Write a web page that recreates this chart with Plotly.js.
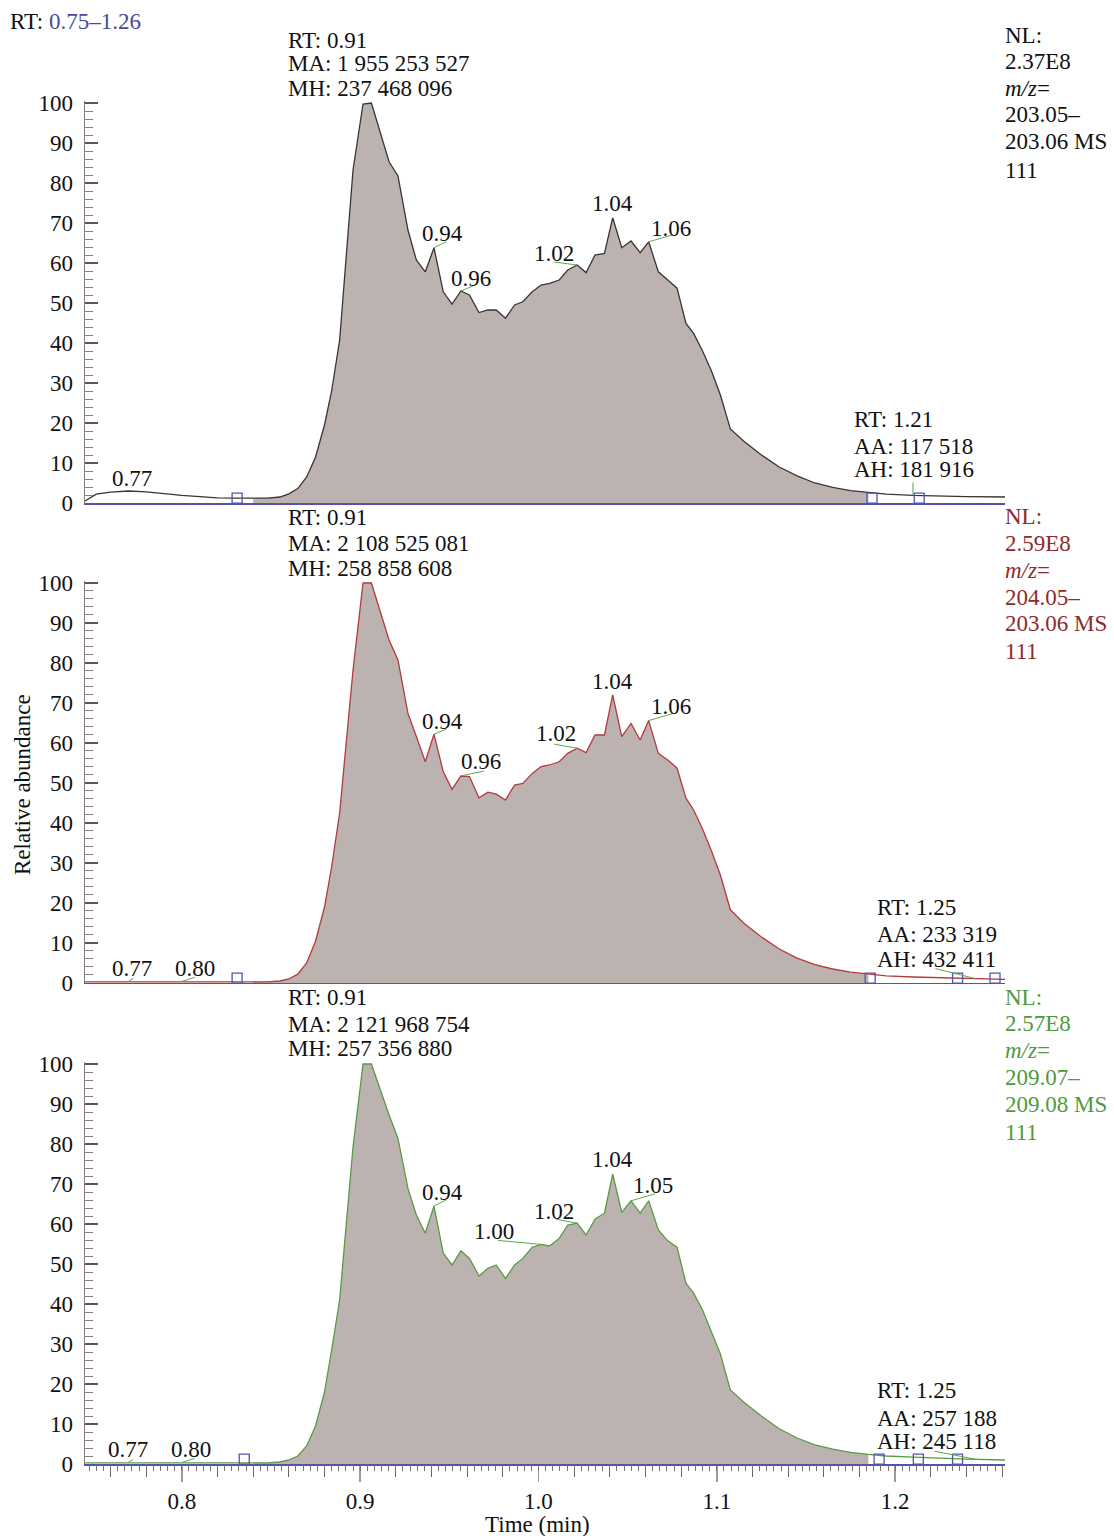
<!DOCTYPE html>
<html><head><meta charset="utf-8">
<script src="https://cdn.plot.ly/plotly-3.0.1.min.js"></script>
<style>html,body{margin:0;padding:0;background:#fff}#chart{width:1114px;height:1536px}</style>
</head><body><div id="chart"></div>
<script>
// ---------------- DATA ----------------
const times = [0.7457,0.752,0.760,0.770,0.780,0.790,0.800,0.810,0.820,0.830,0.840,0.848,0.855,0.860,0.865,0.870,0.875,0.880,0.884,
 0.8885,0.8960,0.9016,0.9063,0.9162,0.9212,0.9268,0.9315,0.9365,0.9414,0.9466,0.9515,0.9565,0.9613,0.9666,0.9716,0.9763,0.9815,0.9866,0.9912,
 0.9965,1.0015,1.0062,1.0116,1.0164,1.0217,1.0267,1.0317,1.0370,1.0416,1.0467,1.0519,1.0570,1.0618,1.0672,1.0725,1.0777,1.0827,1.0870,
 1.092,1.097,1.102,1.1076,1.115,1.125,1.135,1.145,1.155,1.165,1.175,1.185,1.195,1.210,1.225,1.240,1.2616];

const abundance203 = [0.5,2.2,2.7,3.0,2.8,2.3,1.9,1.6,1.3,1.2,1.1,1.2,1.5,2.3,3.6,6.5,11.5,19.5,28,
 40.75,83.25,99.75,100,85.3,81.75,68.25,60.75,57.8,63.8,52.8,49.7,53,52,47.6,48.25,48.25,46.2,49.5,50.3,
 52.8,54.5,54.9,55.75,58.25,59.5,57.6,62,62.4,71.3,63.8,65.5,62.6,65.3,57.8,55.75,53.7,44.9,42.4,
 38,33,27,18.5,15.5,12,9,6.8,5,3.9,3.1,2.6,2.2,1.9,1.7,1.6,1.5];

const abundance204 = [0.3,0.3,0.3,0.4,0.3,0.3,0.4,0.3,0.3,0.3,0.3,0.3,0.5,1.0,2.2,5.0,10.5,19,29,
 42.5,78.25,100,100,85.75,80.75,67.4,61.6,55.3,62.2,52.8,48.4,51.75,51.6,46.3,47.7,47.2,45.75,49.5,49.9,
 52.4,54.1,54.5,55.3,57.4,58.7,57.6,62,62,72,61.6,64.9,60.75,65.6,57.4,55.75,53.7,46.2,43.25,
 38.5,33,27,18.3,15,11.5,8.5,6.2,4.6,3.5,2.7,2.2,1.8,1.5,1.3,1.1,0.9];

const abundance209 = [0.3,0.3,0.3,0.4,0.3,0.3,0.4,0.3,0.3,0.3,0.3,0.3,0.5,1.0,2.0,4.5,9.5,18,28.5,
 41,79.3,100,100,87.25,81.4,68.9,62.25,57.7,64.5,52.7,49.75,53.3,51.4,47,48.9,49.75,46.4,49.75,51.4,
 54.2,54.9,54.5,56.4,59.75,60.2,57.25,61.2,62.7,72.5,62.9,65.8,62.7,65.8,58.5,55.8,54.2,45.2,42.7,
 38.5,33,27.5,18.5,15.5,12,8.8,6.5,4.8,3.7,2.9,2.4,2.0,1.7,1.4,1.2,1.0];

const peakRange203 = [0.832, 1.187];
const peakRange204 = [0.832, 1.187];
const peakRange209 = [0.836, 1.191];

const squares203 = [0.831, 1.187, 1.2135];
const squares204 = [0.831, 1.186, 1.235, 1.256];
const squares209 = [0.835, 1.191, 1.213, 1.235];

const labelTimes203 = [0.770, 0.9414, 0.9565, 1.0217, 1.0416, 1.0618];
const labelTexts203 = ['0.77','0.94','0.96','1.02','1.04','1.06'];
const labelTimes204 = [0.770, 0.800, 0.9414, 0.9565, 1.0217, 1.0416, 1.0618];
const labelTexts204 = ['0.77','0.80','0.94','0.96','1.02','1.04','1.06'];
const labelTimes209 = [0.770, 0.800, 0.9414, 1.0015, 1.0217, 1.0416, 1.0519];
const labelTexts209 = ['0.77','0.80','0.94','1.00','1.02','1.04','1.05'];

const header203 = ['RT: 0.91','MA: 1 955 253 527','MH: 237 468 096'];
const header204 = ['RT: 0.91','MA: 2 108 525 081','MH: 258 858 608'];
const header209 = ['RT: 0.91','MA: 2 121 968 754','MH: 257 356 880'];
const minor203 = ['RT: 1.21','AA: 117 518','AH: 181 916'];
const minor204 = ['RT: 1.25','AA: 233 319','AH: 432 411'];
const minor209 = ['RT: 1.25','AA: 257 188','AH: 245 118'];
const minorTime203 = 1.210, minorTime204 = 1.245, minorTime209 = 1.245;
const side203 = ['NL:','2.37E8','<i>m/z</i>=','203.05–','203.06 MS','111'];
const side204 = ['NL:','2.59E8','<i>m/z</i>=','204.05–','203.06 MS','111'];
const side209 = ['NL:','2.57E8','<i>m/z</i>=','209.07–','209.08 MS','111'];

// ---------------- STYLE / LAYOUT ----------------
const FONT = 'Liberation Serif, Times New Roman, serif';
const FS = 23;
const W=1114, H=1536, ML=85, MR=109, MT=101, MB=72;
const PW=W-ML-MR, PH=H-MT-MB;
const px = x => (x-ML)/PW;
const py = y => (H-MB-y)/PH;
const XR = [0.7457, 1.2616];
const FILL = '#bcb3b0';
const BLUE = '#5353ad';
const GREEN = '#5caa4a';

// label offsets [textDx, textDy, lineDx, lineDy] in pixels (dy up)
const off203 = [[4,13,0,0],[9,14,12,6],[10,13,12,5],[-23,12,-23,3],[0,14,0,0],[22,13,24,7]];
const off204 = [[4,13,5,3],[13,13,13,4],[9,13,12,5],[20,14,23,5],[-21,15,-23,4],[0,13,0,0],[22,14,24,7]];
const off209 = [[0,13,5,3],[9,13,13,4],[9,14,12,6],[-47,13,-43,4],[-23,12,-21,4],[0,15,0,0],[22,15,24,7]];

const panels = [
 {vals:abundance203, range:peakRange203, sq:squares203, lt:labelTimes203, lx:labelTexts203, off:off203,
  header:header203, headerY:[40,64,88], minor:minor203, minorX:852, minorY:[419,446,470], minorT:minorTime203, minorLine:[0,13],
  side:side203, sideY:[35,61,88,115,141,170], lineColor:'#3a3434', sideColor:'#111111', xa:'x', ya:'y'},
 {vals:abundance204, range:peakRange204, sq:squares204, lt:labelTimes204, lx:labelTexts204, off:off204,
  header:header204, headerY:[517,543,568], minor:minor204, minorX:875, minorY:[908,935,959], minorT:minorTime204, minorLine:[-40,10],
  side:side204, sideY:[516,543,570,597,623,651], lineColor:'#b23b3b', sideColor:'#8e2a2a', xa:'x2', ya:'y2'},
 {vals:abundance209, range:peakRange209, sq:squares209, lt:labelTimes209, lx:labelTexts209, off:off209,
  header:header209, headerY:[997,1024,1048], minor:minor209, minorX:875, minorY:[1390,1418,1441], minorT:minorTime209, minorLine:[-41,8],
  side:side209, sideY:[997,1023,1050,1077,1104,1132], lineColor:'#5a9a45', sideColor:'#4f9a3b', xa:'x3', ya:'y3'}
];

function nearestVal(vals, t){
  let bi=0, bd=1e9;
  times.forEach((tt,i)=>{const d=Math.abs(tt-t); if(d<bd){bd=d;bi=i;}});
  return vals[bi];
}

const traces=[], annotations=[], shapes=[];
panels.forEach(p=>{
  const fx=[], fy=[];
  times.forEach((t,i)=>{ if(t>=p.range[0] && t<=p.range[1]){fx.push(t); fy.push(p.vals[i]);} });
  traces.push({x:fx, y:fy, xaxis:p.xa, yaxis:p.ya, type:'scatter', mode:'lines', fill:'tozeroy',
    fillcolor:FILL, line:{width:0, color:FILL}, hoverinfo:'skip'});
  traces.push({x:times, y:p.vals, xaxis:p.xa, yaxis:p.ya, type:'scatter', mode:'lines',
    line:{width:1.3, color:p.lineColor}, hoverinfo:'skip'});
  traces.push({x:p.sq, y:p.sq.map(()=>1.2), xaxis:p.xa, yaxis:p.ya, type:'scatter', mode:'markers', cliponaxis:false,
    marker:{symbol:'square-open', size:10, color:BLUE, line:{width:1.3, color:BLUE}}, hoverinfo:'skip'});
  // peak labels
  p.lt.forEach((t,i)=>{
    const v = nearestVal(p.vals, t);
    const o = p.off[i];
    annotations.push({xref:p.xa, yref:p.ya, x:t, y:v, text:p.lx[i], showarrow:false,
      xanchor:'center', yanchor:'middle', xshift:o[0], yshift:o[1], font:{family:FONT,size:FS,color:'#111'}});
    if(o[2]!==0 || o[3]!==0){
      shapes.push({type:'line', xref:p.xa, yref:p.ya, xsizemode:'pixel', ysizemode:'pixel', xanchor:t, yanchor:v,
        x0:0, y0:0, x1:o[2], y1:o[3], line:{color:GREEN, width:1}});
    }
  });
  // minor peak leader
  const mv = nearestVal(p.vals, p.minorT);
  shapes.push({type:'line', xref:p.xa, yref:p.ya, xsizemode:'pixel', ysizemode:'pixel', xanchor:p.minorT, yanchor:mv,
    x0:0, y0:0, x1:p.minorLine[0], y1:p.minorLine[1], line:{color:GREEN, width:1}});
  p.header.forEach((s,i)=>annotations.push({xref:'paper',yref:'paper',x:px(286),y:py(p.headerY[i]),text:s,showarrow:false,
    xanchor:'left',yanchor:'middle',font:{family:FONT,size:FS,color:'#111'}}));
  p.minor.forEach((s,i)=>annotations.push({xref:'paper',yref:'paper',x:px(p.minorX),y:py(p.minorY[i]),text:s,showarrow:false,
    xanchor:'left',yanchor:'middle',font:{family:FONT,size:FS,color:'#111'}}));
  p.side.forEach((s,i)=>annotations.push({xref:'paper',yref:'paper',x:px(1003),y:py(p.sideY[i]),text:s,showarrow:false,
    xanchor:'left',yanchor:'middle',font:{family:FONT,size:FS,color:p.sideColor}}));
});
traces.push({x:[XR[0]], y:[0], xaxis:'x4', yaxis:'y3', mode:'markers', marker:{opacity:0}, hoverinfo:'skip'});

annotations.push({xref:'paper',yref:'paper',x:px(8),y:py(22),xanchor:'left',yanchor:'middle',showarrow:false,
  text:'RT: <span style="color:#4a4a9c">0.75–1.26</span>', font:{family:FONT,size:FS,color:'#111'}});
annotations.push({xref:'paper',yref:'paper',x:px(22),y:py(785),xanchor:'center',yanchor:'middle',showarrow:false,textangle:-90,
  text:'Relative abundance', font:{family:FONT,size:FS,color:'#111'}});
annotations.push({xref:'paper',yref:'paper',x:px(537),y:py(1524),xanchor:'center',yanchor:'middle',showarrow:false,
  text:'Time (min)', font:{family:FONT,size:FS,color:'#111'}});

function yax(domain){
  return {domain, range:[0,100.5], showgrid:false, zeroline:false, showline:true, linecolor:'#8a7e7b', linewidth:1.5,
    ticks:'inside', ticklen:13, tickwidth:1.5, tickcolor:'#5e5553', tickmode:'linear', tick0:0, dtick:10,
    minor:{ticks:'inside', dtick:2, ticklen:8, tickwidth:1, tickcolor:'#8a7e7b'},
    tickfont:{family:FONT,size:FS,color:'#111'}, ticklabelstandoff:6, fixedrange:true};
}
function xaxTop(anchor){
  return {anchor, range:XR, showline:true, linecolor:BLUE, linewidth:1.5, ticks:'', showticklabels:false,
    showgrid:false, zeroline:false, fixedrange:true};
}
const layout = {
  width:W, height:H, margin:{l:ML, r:MR, t:MT, b:MB}, showlegend:false,
  paper_bgcolor:'#ffffff', plot_bgcolor:'#ffffff',
  xaxis:xaxTop('y'), xaxis2:xaxTop('y2'),
  xaxis3:{anchor:'y3', range:XR, showline:true, linecolor:BLUE, linewidth:1.5, showgrid:false, zeroline:false,
    ticks:'outside', tickmode:'linear', tick0:0, dtick:0.1, ticklen:16, tickwidth:1.5, tickcolor:'#a09a98',
    minor:{ticks:'outside', dtick:0.02, ticklen:11, tickwidth:1.2, tickcolor:'#6a605e'},
    tickformat:'.1f', tickfont:{family:FONT,size:FS,color:'#111'}, fixedrange:true},
  xaxis4:{overlaying:'x3', anchor:'y3', range:XR, showline:false, showgrid:false, zeroline:false,
    ticks:'outside', tickmode:'linear', tick0:0, dtick:0.004, ticklen:6, tickwidth:1, tickcolor:'#7a706e',
    showticklabels:false, fixedrange:true},
  yaxis:yax([0.70506,1]), yaxis2:yax([0.35290,0.64784]), yaxis3:yax([0,0.29493]),
  annotations, shapes
};
Plotly.newPlot('chart', traces, layout, {staticPlot:true, displayModeBar:false});
</script>
</body></html>
